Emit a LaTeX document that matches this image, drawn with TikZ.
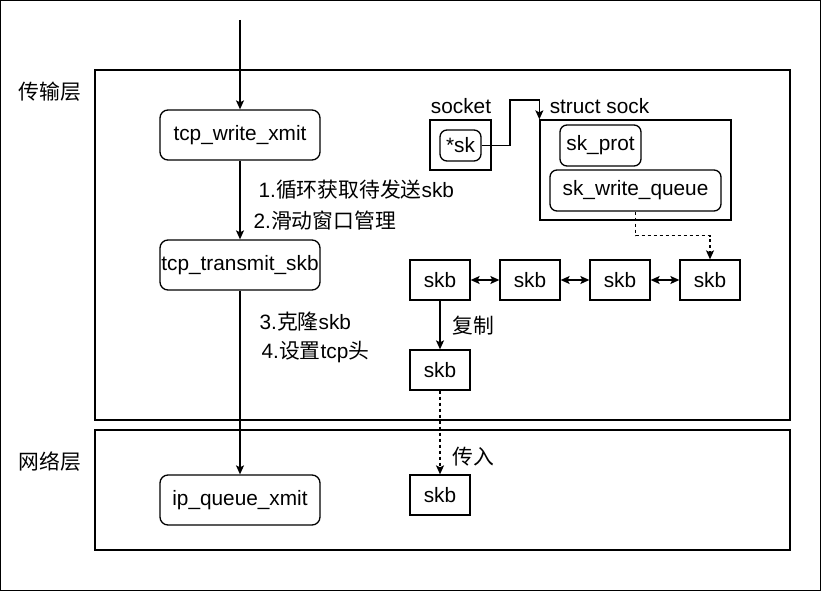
\documentclass[tikz,border=0pt]{standalone}
\usepackage{fontspec}
\setmainfont{Liberation Sans}
\newfontfamily\cjk{Noto Sans CJK SC}
\usepackage{tikz}
\usetikzlibrary{positioning,arrows.meta}

\begin{document}
\begin{tikzpicture}[
  x=1pt,y=-1pt,
  font=\fontsize{20.8}{25}\selectfont,
  line width=1.3pt,
  layer/.style={draw,minimum width=695pt,inner sep=0pt},
  func/.style={draw,rounded corners=8pt,minimum width=160pt,minimum height=50pt,inner sep=0pt},
  field/.style={draw,rounded corners=7pt,minimum height=41pt,inner sep=0pt},
  skbbox/.style={draw,minimum width=60pt,minimum height=40pt,inner sep=0pt},
  txt/.style={inner sep=0pt,anchor=west},
  arr/.style={-{Stealth[length=9pt,width=8pt,inset=2pt]}},
  dbl/.style={{Stealth[length=9pt,width=8pt,inset=2pt]}-{Stealth[length=9pt,width=8pt,inset=2pt]}},
  dsh/.style={arr,dash pattern=on 3pt off 3pt}
]
\useasboundingbox (0,0) rectangle (821,591);
\draw (0.5,0.5) rectangle (820.5,590.5);

% layers
\node[layer,minimum height=350pt] (trans) at (442.5,245) {};
\node[layer,minimum height=120pt] (net)   at (442.5,490) {};
\node (translbl) at (50,92)  {\cjk 传输层};
\node (netlbl)   at (50,462) {\cjk 网络层};

% call chain
\coordinate (entry) at (240,20);
\node[func] (wx) at (240,135) {tcp\_write\_xmit};
\node[func] (tx) at (240,265) {tcp\_transmit\_skb};
\node[func] (ip) at (240,500) {ip\_queue\_xmit};
\draw[arr] (entry) -- (wx.north);
\draw[arr] (wx.south) -- (tx.north);
\draw[arr] (tx.south) -- (ip.north);
\node[txt] (s1) at (258,190) {1.{\cjk 循环获取待发送}skb};
\node[txt] (s2) at (253,221) {2.{\cjk 滑动窗口管理}};
\node[txt] (s3) at (259,322) {3.{\cjk 克隆}skb};
\node[txt] (s4) at (261,352) {4.{\cjk 设置}tcp{\cjk 头}};

% socket / sock
\node (socklbl) at (461,106) {socket};
\node[draw,minimum width=61pt,minimum height=50pt] (socket) at (460.5,145) {};
\node[field,minimum width=41pt,minimum height=31pt] (sk) at (460.5,145.5) {*sk};
\node (structlbl) at (599.5,106) {struct sock};
\node[draw,minimum width=191pt,minimum height=100pt] (sock) at (635.5,170) {};
\node[field,minimum width=81pt] (prot) at (600.5,145.5) {sk\_prot};
\node[field,minimum width=171pt] (wq) at (635.5,190.5) {sk\_write\_queue};
\coordinate (bend) at (510,100);
\draw[arr] (sk.east) -| (bend) -| (sock.north west);

% skb queue
\foreach \n/\x in {1/440,2/530,3/620,4/710}
  \node[skbbox] (skb\n) at (\x,280) {skb};
\foreach \a/\b in {1/2,2/3,3/4}
  \draw[dbl] (skb\a.east) -- (skb\b.west);
\draw[dsh] (wq.south) -- ++(0,24) -| (skb4.north);

% clone
\node[skbbox] (clone) at (440,370) {skb};
\draw[arr] (skb1.south) -- (clone.north);
\node[txt] (cplbl) at (452,326) {\cjk 复制};
\node[skbbox] (down) at (440,495) {skb};
\draw[dsh] (clone.south) -- (down.north);
\node[txt] (inlbl) at (452,457) {\cjk 传入};
\end{tikzpicture}
\end{document}
